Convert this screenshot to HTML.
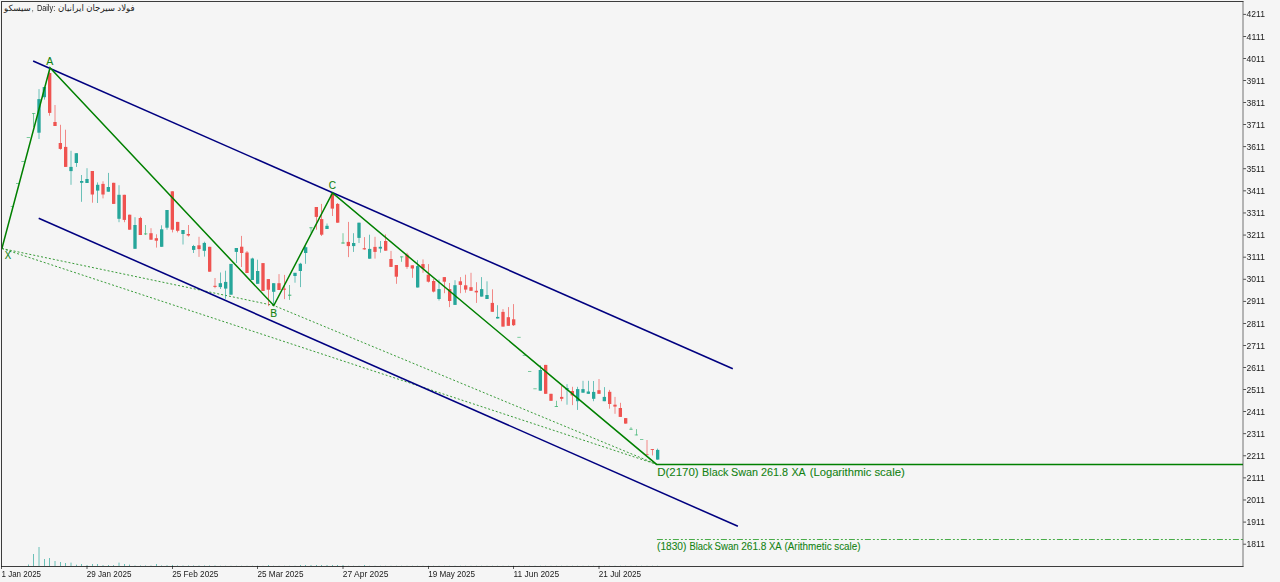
<!DOCTYPE html>
<html><head><meta charset="utf-8"><title>chart</title>
<style>
html,body{margin:0;padding:0;background:#f5f5f5;overflow:hidden}
svg{display:block;font-family:"Liberation Sans",sans-serif}
</style></head><body>
<svg width="1280" height="582" viewBox="0 0 1280 582">
<rect x="0" y="0" width="1280" height="582" fill="#f5f5f5"/>
<g fill="#26a69a">
<rect x="28.00" y="564.50" width="0.667" height="1.50"/>
<rect x="33.33" y="554.00" width="0.667" height="12.00"/>
<rect x="38.67" y="547.00" width="0.667" height="19.00"/>
<rect x="44.00" y="559.00" width="0.667" height="7.00"/>
<rect x="49.33" y="558.00" width="0.667" height="8.00"/>
<rect x="54.67" y="561.00" width="0.667" height="5.00"/>
<rect x="60.00" y="562.00" width="0.667" height="4.00"/>
<rect x="65.33" y="563.00" width="0.667" height="3.00"/>
<rect x="70.67" y="562.60" width="0.667" height="3.40"/>
<rect x="76.00" y="564.70" width="0.667" height="1.30"/>
<rect x="81.33" y="564.00" width="0.667" height="2.00"/>
<rect x="86.67" y="565.00" width="0.667" height="1.00"/>
<rect x="92.00" y="564.00" width="0.667" height="2.00"/>
<rect x="97.33" y="564.00" width="0.667" height="2.00"/>
<rect x="102.67" y="565.00" width="0.667" height="1.00"/>
<rect x="108.00" y="565.00" width="0.667" height="1.00"/>
<rect x="113.33" y="565.00" width="0.667" height="1.00"/>
<rect x="118.67" y="562.60" width="0.667" height="3.40"/>
<rect x="124.00" y="564.00" width="0.667" height="2.00"/>
<rect x="129.33" y="564.60" width="0.667" height="1.40"/>
<rect x="134.67" y="565.45" width="0.667" height="0.55"/>
<rect x="140.00" y="565.45" width="0.667" height="0.55"/>
<rect x="145.33" y="565.45" width="0.667" height="0.55"/>
<rect x="150.67" y="565.45" width="0.667" height="0.55"/>
<rect x="156.00" y="564.00" width="0.667" height="2.00"/>
<rect x="161.33" y="565.45" width="0.667" height="0.55"/>
<rect x="166.67" y="565.20" width="0.667" height="0.80"/>
<rect x="172.00" y="565.00" width="0.667" height="1.00"/>
<rect x="177.33" y="565.45" width="0.667" height="0.55"/>
<rect x="182.67" y="565.45" width="0.667" height="0.55"/>
<rect x="188.00" y="565.45" width="0.667" height="0.55"/>
<rect x="193.33" y="565.45" width="0.667" height="0.55"/>
<rect x="198.67" y="565.45" width="0.667" height="0.55"/>
<rect x="204.00" y="565.45" width="0.667" height="0.55"/>
<rect x="209.33" y="565.45" width="0.667" height="0.55"/>
<rect x="214.67" y="565.45" width="0.667" height="0.55"/>
<rect x="220.00" y="565.75" width="0.667" height="0.25"/>
<rect x="225.33" y="565.75" width="0.667" height="0.25"/>
<rect x="230.67" y="565.75" width="0.667" height="0.25"/>
<rect x="236.00" y="565.75" width="0.667" height="0.25"/>
<rect x="241.33" y="565.75" width="0.667" height="0.25"/>
<rect x="246.67" y="565.75" width="0.667" height="0.25"/>
<rect x="252.00" y="565.75" width="0.667" height="0.25"/>
<rect x="257.33" y="565.75" width="0.667" height="0.25"/>
<rect x="262.67" y="565.75" width="0.667" height="0.25"/>
<rect x="268.00" y="565.00" width="0.667" height="1.00"/>
<rect x="273.33" y="565.75" width="0.667" height="0.25"/>
<rect x="278.67" y="565.75" width="0.667" height="0.25"/>
<rect x="284.00" y="565.75" width="0.667" height="0.25"/>
<rect x="289.33" y="565.75" width="0.667" height="0.25"/>
<rect x="294.67" y="565.75" width="0.667" height="0.25"/>
<rect x="300.00" y="565.00" width="0.667" height="1.00"/>
<rect x="305.33" y="565.00" width="0.667" height="1.00"/>
<rect x="310.67" y="565.00" width="0.667" height="1.00"/>
<rect x="316.00" y="565.00" width="0.667" height="1.00"/>
<rect x="321.33" y="565.00" width="0.667" height="1.00"/>
<rect x="326.67" y="565.00" width="0.667" height="1.00"/>
<rect x="332.00" y="565.00" width="0.667" height="1.00"/>
<rect x="337.33" y="565.00" width="0.667" height="1.00"/>
<rect x="342.67" y="565.00" width="0.667" height="1.00"/>
<rect x="348.00" y="565.75" width="0.667" height="0.25"/>
<rect x="353.33" y="565.75" width="0.667" height="0.25"/>
<rect x="358.67" y="565.75" width="0.667" height="0.25"/>
<rect x="364.00" y="565.00" width="0.667" height="1.00"/>
<rect x="369.33" y="565.75" width="0.667" height="0.25"/>
<rect x="374.67" y="565.75" width="0.667" height="0.25"/>
<rect x="380.00" y="565.75" width="0.667" height="0.25"/>
<rect x="385.33" y="565.75" width="0.667" height="0.25"/>
<rect x="390.67" y="565.75" width="0.667" height="0.25"/>
<rect x="396.00" y="565.75" width="0.667" height="0.25"/>
<rect x="401.33" y="565.75" width="0.667" height="0.25"/>
<rect x="406.67" y="565.75" width="0.667" height="0.25"/>
<rect x="412.00" y="565.75" width="0.667" height="0.25"/>
<rect x="417.33" y="565.75" width="0.667" height="0.25"/>
<rect x="422.67" y="565.75" width="0.667" height="0.25"/>
<rect x="428.00" y="565.75" width="0.667" height="0.25"/>
<rect x="433.33" y="565.75" width="0.667" height="0.25"/>
<rect x="438.67" y="565.75" width="0.667" height="0.25"/>
<rect x="444.00" y="565.75" width="0.667" height="0.25"/>
<rect x="449.33" y="565.75" width="0.667" height="0.25"/>
<rect x="454.67" y="565.75" width="0.667" height="0.25"/>
<rect x="460.00" y="565.75" width="0.667" height="0.25"/>
<rect x="465.33" y="565.75" width="0.667" height="0.25"/>
<rect x="470.67" y="565.75" width="0.667" height="0.25"/>
<rect x="476.00" y="565.75" width="0.667" height="0.25"/>
<rect x="481.33" y="565.75" width="0.667" height="0.25"/>
<rect x="486.67" y="565.75" width="0.667" height="0.25"/>
<rect x="492.00" y="565.75" width="0.667" height="0.25"/>
<rect x="497.33" y="565.75" width="0.667" height="0.25"/>
<rect x="502.67" y="565.75" width="0.667" height="0.25"/>
<rect x="508.00" y="565.75" width="0.667" height="0.25"/>
<rect x="513.33" y="565.75" width="0.667" height="0.25"/>
<rect x="518.67" y="565.75" width="0.667" height="0.25"/>
<rect x="524.00" y="565.75" width="0.667" height="0.25"/>
<rect x="529.33" y="565.75" width="0.667" height="0.25"/>
<rect x="534.67" y="565.75" width="0.667" height="0.25"/>
<rect x="540.00" y="565.75" width="0.667" height="0.25"/>
<rect x="545.33" y="565.75" width="0.667" height="0.25"/>
<rect x="550.67" y="565.75" width="0.667" height="0.25"/>
<rect x="556.00" y="565.75" width="0.667" height="0.25"/>
<rect x="561.33" y="565.75" width="0.667" height="0.25"/>
<rect x="566.67" y="565.75" width="0.667" height="0.25"/>
<rect x="572.00" y="565.75" width="0.667" height="0.25"/>
<rect x="577.33" y="565.75" width="0.667" height="0.25"/>
<rect x="582.67" y="565.75" width="0.667" height="0.25"/>
<rect x="588.00" y="565.75" width="0.667" height="0.25"/>
<rect x="593.33" y="565.75" width="0.667" height="0.25"/>
<rect x="598.67" y="565.75" width="0.667" height="0.25"/>
<rect x="604.00" y="565.75" width="0.667" height="0.25"/>
<rect x="609.33" y="565.75" width="0.667" height="0.25"/>
<rect x="614.67" y="565.75" width="0.667" height="0.25"/>
<rect x="620.00" y="565.75" width="0.667" height="0.25"/>
<rect x="625.33" y="565.75" width="0.667" height="0.25"/>
<rect x="630.67" y="565.75" width="0.667" height="0.25"/>
<rect x="636.00" y="565.75" width="0.667" height="0.25"/>
<rect x="641.33" y="565.75" width="0.667" height="0.25"/>
<rect x="646.67" y="565.75" width="0.667" height="0.25"/>
<rect x="652.00" y="565.75" width="0.667" height="0.25"/>
<rect x="657.33" y="565.75" width="0.667" height="0.25"/>
</g>
<g stroke="#008000" stroke-width="0.9" stroke-dasharray="2 2" fill="none" opacity="0.85">
<path d="M1.9 248.5 L273.8 305.5 L656.6 464.3"/>
<path d="M1.9 248.5 L656.6 464.3"/>
</g>
<rect x="33.33" y="113.2" width="0.667" height="13.8" fill="#3cb371"/>
<rect x="32.00" y="113.2" width="3.333" height="0.7" fill="#3cb371"/>
<rect x="38.67" y="89.1" width="0.667" height="49.9" fill="#26a69a"/>
<rect x="37.33" y="99.1" width="3.333" height="33.6" fill="#26a69a"/>
<rect x="44.00" y="87.0" width="0.667" height="12.6" fill="#26a69a"/>
<rect x="42.67" y="87.0" width="3.333" height="10.2" fill="#26a69a"/>
<rect x="49.33" y="67.8" width="0.667" height="47.9" fill="#ef5350"/>
<rect x="48.00" y="73.0" width="3.333" height="39.9" fill="#ef5350"/>
<rect x="54.67" y="105.0" width="0.667" height="21.0" fill="#ef5350"/>
<rect x="53.33" y="122.0" width="3.333" height="4.0" fill="#ef5350"/>
<rect x="60.00" y="124.8" width="0.667" height="24.9" fill="#ef5350"/>
<rect x="58.67" y="143.0" width="3.333" height="5.9" fill="#ef5350"/>
<rect x="65.33" y="129.7" width="0.667" height="37.2" fill="#ef5350"/>
<rect x="64.00" y="146.9" width="3.333" height="20.0" fill="#ef5350"/>
<rect x="70.67" y="150.8" width="0.667" height="34.0" fill="#26a69a"/>
<rect x="69.33" y="166.9" width="3.333" height="4.2" fill="#26a69a"/>
<rect x="76.00" y="153.2" width="0.667" height="13.7" fill="#26a69a"/>
<rect x="74.67" y="153.2" width="3.333" height="9.8" fill="#26a69a"/>
<rect x="81.33" y="175.0" width="0.667" height="26.8" fill="#26a69a"/>
<rect x="80.00" y="181.0" width="3.333" height="1.8" fill="#26a69a"/>
<rect x="86.67" y="168.2" width="0.667" height="14.8" fill="#26a69a"/>
<rect x="85.33" y="179.0" width="3.333" height="4.0" fill="#26a69a"/>
<rect x="92.00" y="171.0" width="0.667" height="31.7" fill="#ef5350"/>
<rect x="90.67" y="171.0" width="3.333" height="23.5" fill="#ef5350"/>
<rect x="97.33" y="182.4" width="0.667" height="20.6" fill="#26a69a"/>
<rect x="96.00" y="184.8" width="3.333" height="5.8" fill="#26a69a"/>
<rect x="102.67" y="181.3" width="0.667" height="17.1" fill="#ef5350"/>
<rect x="101.33" y="183.9" width="3.333" height="10.6" fill="#ef5350"/>
<rect x="108.00" y="172.9" width="0.667" height="18.8" fill="#26a69a"/>
<rect x="106.67" y="187.0" width="3.333" height="4.7" fill="#26a69a"/>
<rect x="113.33" y="182.8" width="0.667" height="21.1" fill="#ef5350"/>
<rect x="112.00" y="182.8" width="3.333" height="21.1" fill="#ef5350"/>
<rect x="118.67" y="185.2" width="0.667" height="37.0" fill="#26a69a"/>
<rect x="117.33" y="194.8" width="3.333" height="24.0" fill="#26a69a"/>
<rect x="124.00" y="194.8" width="0.667" height="27.4" fill="#ef5350"/>
<rect x="122.67" y="194.8" width="3.333" height="25.1" fill="#ef5350"/>
<rect x="129.33" y="214.7" width="0.667" height="15.0" fill="#ef5350"/>
<rect x="128.00" y="214.7" width="3.333" height="15.0" fill="#ef5350"/>
<rect x="134.67" y="217.2" width="0.667" height="31.6" fill="#26a69a"/>
<rect x="133.33" y="225.0" width="3.333" height="23.8" fill="#26a69a"/>
<rect x="140.00" y="216.8" width="0.667" height="18.2" fill="#ef5350"/>
<rect x="138.67" y="218.0" width="3.333" height="17.0" fill="#ef5350"/>
<rect x="145.33" y="225.0" width="0.667" height="10.0" fill="#3cb371"/>
<rect x="144.00" y="233.5" width="3.333" height="0.8" fill="#3cb371"/>
<rect x="150.67" y="228.2" width="0.667" height="11.5" fill="#ef5350"/>
<rect x="149.33" y="233.2" width="3.333" height="6.5" fill="#ef5350"/>
<rect x="156.00" y="234.3" width="0.667" height="13.3" fill="#ef5350"/>
<rect x="154.67" y="238.2" width="3.333" height="2.5" fill="#ef5350"/>
<rect x="161.33" y="225.3" width="0.667" height="21.5" fill="#26a69a"/>
<rect x="160.00" y="229.3" width="3.333" height="17.5" fill="#26a69a"/>
<rect x="166.67" y="210.0" width="0.667" height="19.7" fill="#26a69a"/>
<rect x="165.33" y="210.0" width="3.333" height="17.7" fill="#26a69a"/>
<rect x="172.00" y="191.3" width="0.667" height="41.1" fill="#ef5350"/>
<rect x="170.67" y="191.3" width="3.333" height="38.4" fill="#ef5350"/>
<rect x="177.33" y="221.9" width="0.667" height="10.5" fill="#ef5350"/>
<rect x="176.00" y="221.9" width="3.333" height="8.9" fill="#ef5350"/>
<rect x="182.67" y="230.0" width="0.667" height="14.5" fill="#26a69a"/>
<rect x="181.33" y="230.0" width="3.333" height="4.0" fill="#26a69a"/>
<rect x="188.00" y="225.0" width="0.667" height="11.6" fill="#ef5350"/>
<rect x="186.67" y="234.0" width="3.333" height="1.5" fill="#ef5350"/>
<rect x="193.33" y="244.9" width="0.667" height="8.1" fill="#26a69a"/>
<rect x="192.00" y="246.0" width="3.333" height="3.9" fill="#26a69a"/>
<rect x="198.67" y="236.8" width="0.667" height="20.1" fill="#ef5350"/>
<rect x="197.33" y="245.3" width="3.333" height="3.8" fill="#ef5350"/>
<rect x="204.00" y="241.7" width="0.667" height="14.9" fill="#26a69a"/>
<rect x="202.67" y="242.9" width="3.333" height="7.9" fill="#26a69a"/>
<rect x="209.33" y="246.8" width="0.667" height="24.9" fill="#ef5350"/>
<rect x="208.00" y="246.8" width="3.333" height="24.9" fill="#ef5350"/>
<rect x="214.67" y="278.0" width="0.667" height="10.2" fill="#ef5350"/>
<rect x="213.33" y="285.8" width="3.333" height="1.1" fill="#ef5350"/>
<rect x="220.00" y="272.5" width="0.667" height="16.5" fill="#26a69a"/>
<rect x="218.67" y="283.2" width="3.333" height="3.9" fill="#26a69a"/>
<rect x="225.33" y="270.7" width="0.667" height="28.1" fill="#26a69a"/>
<rect x="224.00" y="281.9" width="3.333" height="6.7" fill="#26a69a"/>
<rect x="230.67" y="263.9" width="0.667" height="30.8" fill="#26a69a"/>
<rect x="229.33" y="263.9" width="3.333" height="30.8" fill="#26a69a"/>
<rect x="236.00" y="248.0" width="0.667" height="15.0" fill="#26a69a"/>
<rect x="234.67" y="248.0" width="3.333" height="3.9" fill="#26a69a"/>
<rect x="241.33" y="235.9" width="0.667" height="31.1" fill="#ef5350"/>
<rect x="240.00" y="246.7" width="3.333" height="6.3" fill="#ef5350"/>
<rect x="246.67" y="251.0" width="0.667" height="22.0" fill="#ef5350"/>
<rect x="245.33" y="252.5" width="3.333" height="20.5" fill="#ef5350"/>
<rect x="252.00" y="257.7" width="0.667" height="22.3" fill="#26a69a"/>
<rect x="250.67" y="258.5" width="3.333" height="21.5" fill="#26a69a"/>
<rect x="257.33" y="259.7" width="0.667" height="24.1" fill="#26a69a"/>
<rect x="256.00" y="271.0" width="3.333" height="12.8" fill="#26a69a"/>
<rect x="262.67" y="263.1" width="0.667" height="27.9" fill="#ef5350"/>
<rect x="261.33" y="263.1" width="3.333" height="27.9" fill="#ef5350"/>
<rect x="268.00" y="279.1" width="0.667" height="27.0" fill="#ef5350"/>
<rect x="266.67" y="279.1" width="3.333" height="10.6" fill="#ef5350"/>
<rect x="273.33" y="283.2" width="0.667" height="22.2" fill="#26a69a"/>
<rect x="272.00" y="283.2" width="3.333" height="8.6" fill="#26a69a"/>
<rect x="278.67" y="274.1" width="0.667" height="15.9" fill="#ef5350"/>
<rect x="277.33" y="283.2" width="3.333" height="6.8" fill="#ef5350"/>
<rect x="284.00" y="274.9" width="0.667" height="24.2" fill="#ef5350"/>
<rect x="282.67" y="288.6" width="3.333" height="1.1" fill="#ef5350"/>
<rect x="289.33" y="285.0" width="0.667" height="14.9" fill="#3cb371"/>
<rect x="288.00" y="294.7" width="3.333" height="1.0" fill="#3cb371"/>
<rect x="294.67" y="272.8" width="0.667" height="9.9" fill="#26a69a"/>
<rect x="293.33" y="272.8" width="3.333" height="3.2" fill="#26a69a"/>
<rect x="300.00" y="262.8" width="0.667" height="24.3" fill="#26a69a"/>
<rect x="298.67" y="263.7" width="3.333" height="7.3" fill="#26a69a"/>
<rect x="305.33" y="246.0" width="0.667" height="17.8" fill="#26a69a"/>
<rect x="304.00" y="247.2" width="3.333" height="5.8" fill="#26a69a"/>
<rect x="310.67" y="227.4" width="0.667" height="5.5" fill="#3cb371"/>
<rect x="309.33" y="227.4" width="3.333" height="0.8" fill="#3cb371"/>
<rect x="316.00" y="207.0" width="0.667" height="22.7" fill="#ef5350"/>
<rect x="314.67" y="207.0" width="3.333" height="9.9" fill="#ef5350"/>
<rect x="321.33" y="203.9" width="0.667" height="32.1" fill="#ef5350"/>
<rect x="320.00" y="219.1" width="3.333" height="15.6" fill="#ef5350"/>
<rect x="326.67" y="223.5" width="0.667" height="5.5" fill="#26a69a"/>
<rect x="325.33" y="225.8" width="3.333" height="3.2" fill="#26a69a"/>
<rect x="332.00" y="193.0" width="0.667" height="23.0" fill="#ef5350"/>
<rect x="330.67" y="193.5" width="3.333" height="15.1" fill="#ef5350"/>
<rect x="337.33" y="203.0" width="0.667" height="19.7" fill="#ef5350"/>
<rect x="336.00" y="203.9" width="3.333" height="18.8" fill="#ef5350"/>
<rect x="342.67" y="233.2" width="0.667" height="10.3" fill="#3cb371"/>
<rect x="341.33" y="242.5" width="3.333" height="1.0" fill="#3cb371"/>
<rect x="348.00" y="221.9" width="0.667" height="35.2" fill="#ef5350"/>
<rect x="346.67" y="241.9" width="3.333" height="4.2" fill="#ef5350"/>
<rect x="353.33" y="233.2" width="0.667" height="18.7" fill="#26a69a"/>
<rect x="352.00" y="243.0" width="3.333" height="3.1" fill="#26a69a"/>
<rect x="358.67" y="222.7" width="0.667" height="20.3" fill="#26a69a"/>
<rect x="357.33" y="222.7" width="3.333" height="15.2" fill="#26a69a"/>
<rect x="364.00" y="237.1" width="0.667" height="12.6" fill="#ef5350"/>
<rect x="362.67" y="248.2" width="3.333" height="1.2" fill="#ef5350"/>
<rect x="369.33" y="234.7" width="0.667" height="24.0" fill="#26a69a"/>
<rect x="368.00" y="248.9" width="3.333" height="9.8" fill="#26a69a"/>
<rect x="374.67" y="236.8" width="0.667" height="21.8" fill="#ef5350"/>
<rect x="373.33" y="246.9" width="3.333" height="5.0" fill="#ef5350"/>
<rect x="380.00" y="241.0" width="0.667" height="11.7" fill="#26a69a"/>
<rect x="378.67" y="246.8" width="3.333" height="1.8" fill="#26a69a"/>
<rect x="385.33" y="234.4" width="0.667" height="16.3" fill="#ef5350"/>
<rect x="384.00" y="241.0" width="3.333" height="9.7" fill="#ef5350"/>
<rect x="390.67" y="250.9" width="0.667" height="16.0" fill="#ef5350"/>
<rect x="389.33" y="259.0" width="3.333" height="7.9" fill="#ef5350"/>
<rect x="396.00" y="265.0" width="0.667" height="18.8" fill="#ef5350"/>
<rect x="394.67" y="265.0" width="3.333" height="11.7" fill="#ef5350"/>
<rect x="401.33" y="256.5" width="0.667" height="5.3" fill="#3cb371"/>
<rect x="400.00" y="256.5" width="3.333" height="0.8" fill="#3cb371"/>
<rect x="406.67" y="252.8" width="0.667" height="16.0" fill="#ef5350"/>
<rect x="405.33" y="254.7" width="3.333" height="12.2" fill="#ef5350"/>
<rect x="412.00" y="265.3" width="0.667" height="12.5" fill="#ef5350"/>
<rect x="410.67" y="265.3" width="3.333" height="3.2" fill="#ef5350"/>
<rect x="417.33" y="260.2" width="0.667" height="27.3" fill="#26a69a"/>
<rect x="416.00" y="266.1" width="3.333" height="21.4" fill="#26a69a"/>
<rect x="422.67" y="259.4" width="0.667" height="13.4" fill="#ef5350"/>
<rect x="421.33" y="264.1" width="3.333" height="4.4" fill="#ef5350"/>
<rect x="428.00" y="264.1" width="0.667" height="18.4" fill="#ef5350"/>
<rect x="426.67" y="274.7" width="3.333" height="7.0" fill="#ef5350"/>
<rect x="433.33" y="279.1" width="0.667" height="13.3" fill="#ef5350"/>
<rect x="432.00" y="281.0" width="3.333" height="10.6" fill="#ef5350"/>
<rect x="438.67" y="279.4" width="0.667" height="21.1" fill="#26a69a"/>
<rect x="437.33" y="289.1" width="3.333" height="9.9" fill="#26a69a"/>
<rect x="444.00" y="277.1" width="0.667" height="16.1" fill="#ef5350"/>
<rect x="442.67" y="277.1" width="3.333" height="4.6" fill="#ef5350"/>
<rect x="449.33" y="283.0" width="0.667" height="24.1" fill="#ef5350"/>
<rect x="448.00" y="289.1" width="3.333" height="11.9" fill="#ef5350"/>
<rect x="454.67" y="280.2" width="0.667" height="24.7" fill="#26a69a"/>
<rect x="453.33" y="285.2" width="3.333" height="19.7" fill="#26a69a"/>
<rect x="460.00" y="277.1" width="0.667" height="16.1" fill="#ef5350"/>
<rect x="458.67" y="281.3" width="3.333" height="3.6" fill="#ef5350"/>
<rect x="465.33" y="274.7" width="0.667" height="18.0" fill="#ef5350"/>
<rect x="464.00" y="285.3" width="3.333" height="4.3" fill="#ef5350"/>
<rect x="470.67" y="272.8" width="0.667" height="18.0" fill="#ef5350"/>
<rect x="469.33" y="287.2" width="3.333" height="3.6" fill="#ef5350"/>
<rect x="476.00" y="282.2" width="0.667" height="20.7" fill="#ef5350"/>
<rect x="474.67" y="290.8" width="3.333" height="1.6" fill="#ef5350"/>
<rect x="481.33" y="277.1" width="0.667" height="19.5" fill="#26a69a"/>
<rect x="480.00" y="289.1" width="3.333" height="7.5" fill="#26a69a"/>
<rect x="486.67" y="281.3" width="0.667" height="17.7" fill="#26a69a"/>
<rect x="485.33" y="295.0" width="3.333" height="4.0" fill="#26a69a"/>
<rect x="492.00" y="289.3" width="0.667" height="22.5" fill="#ef5350"/>
<rect x="490.67" y="302.9" width="3.333" height="8.9" fill="#ef5350"/>
<rect x="497.33" y="305.2" width="0.667" height="13.3" fill="#26a69a"/>
<rect x="496.00" y="316.9" width="3.333" height="1.6" fill="#26a69a"/>
<rect x="502.67" y="309.1" width="0.667" height="17.5" fill="#ef5350"/>
<rect x="501.33" y="311.9" width="3.333" height="14.7" fill="#ef5350"/>
<rect x="508.00" y="307.1" width="0.667" height="18.7" fill="#ef5350"/>
<rect x="506.67" y="317.2" width="3.333" height="8.6" fill="#ef5350"/>
<rect x="513.33" y="304.1" width="0.667" height="21.9" fill="#ef5350"/>
<rect x="512.00" y="319.3" width="3.333" height="5.9" fill="#ef5350"/>
<rect x="540.00" y="365.3" width="0.667" height="25.4" fill="#26a69a"/>
<rect x="538.67" y="370.0" width="3.333" height="20.7" fill="#26a69a"/>
<rect x="545.33" y="364.9" width="0.667" height="28.9" fill="#ef5350"/>
<rect x="544.00" y="364.9" width="3.333" height="28.9" fill="#ef5350"/>
<rect x="550.67" y="393.8" width="0.667" height="7.0" fill="#ef5350"/>
<rect x="549.33" y="393.8" width="3.333" height="7.0" fill="#ef5350"/>
<rect x="556.00" y="400.8" width="0.667" height="6.0" fill="#3cb371"/>
<rect x="554.67" y="406.0" width="3.333" height="0.8" fill="#3cb371"/>
<rect x="561.33" y="386.0" width="0.667" height="15.2" fill="#ef5350"/>
<rect x="560.00" y="396.9" width="3.333" height="1.9" fill="#ef5350"/>
<rect x="566.67" y="384.1" width="0.667" height="20.6" fill="#26a69a"/>
<rect x="565.33" y="388.0" width="3.333" height="1.6" fill="#26a69a"/>
<rect x="572.00" y="386.8" width="0.667" height="18.3" fill="#ef5350"/>
<rect x="570.67" y="391.0" width="3.333" height="4.4" fill="#ef5350"/>
<rect x="577.33" y="386.8" width="0.667" height="23.1" fill="#26a69a"/>
<rect x="576.00" y="389.1" width="3.333" height="12.1" fill="#26a69a"/>
<rect x="582.67" y="380.8" width="0.667" height="11.9" fill="#26a69a"/>
<rect x="581.33" y="389.1" width="3.333" height="3.6" fill="#26a69a"/>
<rect x="588.00" y="380.8" width="0.667" height="13.0" fill="#26a69a"/>
<rect x="586.67" y="391.5" width="3.333" height="2.3" fill="#26a69a"/>
<rect x="593.33" y="381.0" width="0.667" height="20.2" fill="#26a69a"/>
<rect x="592.00" y="391.9" width="3.333" height="6.9" fill="#26a69a"/>
<rect x="598.67" y="379.0" width="0.667" height="14.8" fill="#ef5350"/>
<rect x="597.33" y="390.2" width="3.333" height="3.6" fill="#ef5350"/>
<rect x="604.00" y="387.1" width="0.667" height="14.1" fill="#26a69a"/>
<rect x="602.67" y="396.9" width="3.333" height="4.3" fill="#26a69a"/>
<rect x="609.33" y="389.9" width="0.667" height="18.8" fill="#ef5350"/>
<rect x="608.00" y="391.8" width="3.333" height="12.2" fill="#ef5350"/>
<rect x="614.67" y="396.9" width="0.667" height="16.9" fill="#ef5350"/>
<rect x="613.33" y="404.7" width="3.333" height="1.9" fill="#ef5350"/>
<rect x="620.00" y="402.8" width="0.667" height="14.1" fill="#ef5350"/>
<rect x="618.67" y="408.0" width="3.333" height="8.9" fill="#ef5350"/>
<rect x="625.33" y="418.1" width="0.667" height="5.5" fill="#ef5350"/>
<rect x="624.00" y="418.1" width="3.333" height="5.5" fill="#ef5350"/>
<rect x="630.67" y="427.2" width="0.667" height="2.4" fill="#3cb371"/>
<rect x="629.33" y="428.8" width="3.333" height="0.8" fill="#3cb371"/>
<rect x="636.00" y="429.1" width="0.667" height="6.2" fill="#3cb371"/>
<rect x="634.67" y="434.6" width="3.333" height="0.7" fill="#3cb371"/>
<rect x="646.67" y="440.0" width="0.667" height="15.0" fill="#ef5350"/>
<rect x="645.33" y="454.4" width="3.333" height="0.7" fill="#ef5350"/>
<rect x="652.00" y="449.0" width="0.667" height="6.4" fill="#ef5350"/>
<rect x="650.67" y="449.0" width="3.333" height="0.9" fill="#ef5350"/>
<rect x="657.33" y="448.6" width="0.667" height="11.0" fill="#26a69a"/>
<rect x="656.00" y="449.9" width="3.333" height="9.7" fill="#26a69a"/>
<rect x="10.67" y="206.2" width="3.333" height="0.667" fill="#3cb371"/>
<rect x="16.00" y="183.0" width="3.333" height="0.667" fill="#3cb371"/>
<rect x="21.33" y="161.1" width="3.333" height="0.667" fill="#3cb371"/>
<rect x="26.67" y="137.0" width="3.333" height="0.667" fill="#3cb371"/>
<rect x="517.33" y="336.9" width="3.333" height="0.667" fill="#3cb371"/>
<rect x="522.67" y="354.9" width="3.333" height="0.667" fill="#3cb371"/>
<rect x="528.00" y="371.1" width="3.333" height="0.667" fill="#3cb371"/>
<rect x="533.33" y="388.5" width="3.333" height="0.667" fill="#3cb371"/>
<rect x="640.00" y="439.0" width="3.333" height="0.667" fill="#3cb371"/>
<g stroke="#000080" stroke-width="1.55" fill="none">
<path d="M33.1 61.0 L732.8 368.7"/>
<path d="M38.7 218.2 L737.9 526.3"/>
</g>
<g stroke="#008000" stroke-width="1.5" fill="none" stroke-linejoin="miter">
<path d="M1.9 248.5 L50 67.8 L273.8 305.5 L332.5 193 L656.6 464.4 L1243 464.4"/>
</g>
<path d="M656.9 539.5 H1243" stroke="#1e9a1e" stroke-width="0.8" stroke-dasharray="6 2 2 2 2 2" fill="none"/>
<rect x="1242.67" y="1" width="0.667" height="566" fill="#333"/>
<rect x="1" y="1" width="1242.4" height="1" fill="#3c3c3c"/>
<rect x="1" y="1" width="1" height="566" fill="#3c3c3c"/>
<rect x="1" y="566" width="1242.4" height="1" fill="#3c3c3c"/>
<rect x="1243.3" y="13.92" width="2.8" height="0.667" fill="#000"/>
<rect x="1243.3" y="36.00" width="2.8" height="0.667" fill="#000"/>
<rect x="1243.3" y="58.08" width="2.8" height="0.667" fill="#000"/>
<rect x="1243.3" y="80.15" width="2.8" height="0.667" fill="#000"/>
<rect x="1243.3" y="102.23" width="2.8" height="0.667" fill="#000"/>
<rect x="1243.3" y="124.31" width="2.8" height="0.667" fill="#000"/>
<rect x="1243.3" y="146.39" width="2.8" height="0.667" fill="#000"/>
<rect x="1243.3" y="168.47" width="2.8" height="0.667" fill="#000"/>
<rect x="1243.3" y="190.55" width="2.8" height="0.667" fill="#000"/>
<rect x="1243.3" y="212.63" width="2.8" height="0.667" fill="#000"/>
<rect x="1243.3" y="234.71" width="2.8" height="0.667" fill="#000"/>
<rect x="1243.3" y="256.79" width="2.8" height="0.667" fill="#000"/>
<rect x="1243.3" y="278.86" width="2.8" height="0.667" fill="#000"/>
<rect x="1243.3" y="300.94" width="2.8" height="0.667" fill="#000"/>
<rect x="1243.3" y="323.02" width="2.8" height="0.667" fill="#000"/>
<rect x="1243.3" y="345.10" width="2.8" height="0.667" fill="#000"/>
<rect x="1243.3" y="367.18" width="2.8" height="0.667" fill="#000"/>
<rect x="1243.3" y="389.26" width="2.8" height="0.667" fill="#000"/>
<rect x="1243.3" y="411.34" width="2.8" height="0.667" fill="#000"/>
<rect x="1243.3" y="433.42" width="2.8" height="0.667" fill="#000"/>
<rect x="1243.3" y="455.50" width="2.8" height="0.667" fill="#000"/>
<rect x="1243.3" y="477.58" width="2.8" height="0.667" fill="#000"/>
<rect x="1243.3" y="499.65" width="2.8" height="0.667" fill="#000"/>
<rect x="1243.3" y="521.73" width="2.8" height="0.667" fill="#000"/>
<rect x="1243.3" y="543.81" width="2.8" height="0.667" fill="#000"/>
<rect x="1.33" y="566" width="0.667" height="3" fill="#111"/>
<rect x="86.67" y="566" width="0.667" height="3" fill="#111"/>
<rect x="172.00" y="566" width="0.667" height="3" fill="#111"/>
<rect x="257.33" y="566" width="0.667" height="3" fill="#111"/>
<rect x="342.67" y="566" width="0.667" height="3" fill="#111"/>
<rect x="428.00" y="566" width="0.667" height="3" fill="#111"/>
<rect x="513.33" y="566" width="0.667" height="3" fill="#111"/>
<rect x="598.67" y="566" width="0.667" height="3" fill="#111"/>
<g font-size="11.7" fill="#128212" stroke="#128212" stroke-width="0.1" text-anchor="middle">
<text transform="translate(49.7 64.8) scale(0.90 1)">A</text>
<text transform="translate(273.6 316.7) scale(0.88 1)">B</text>
<text transform="translate(332.3 189.4) scale(0.86 1)">C</text>
<text transform="translate(8.0 259.1) scale(0.82 1)">X</text>
</g>
<g font-size="11.3" fill="#128212" stroke="#128212" stroke-width="0.08">
<text x="657.2" y="475.9" textLength="41.5" lengthAdjust="spacingAndGlyphs">D(2170)</text>
<text x="702.1" y="475.9" textLength="26.3" lengthAdjust="spacingAndGlyphs">Black</text>
<text x="731.1" y="475.9" textLength="27.0" lengthAdjust="spacingAndGlyphs">Swan</text>
<text x="761.0" y="475.9" textLength="27.1" lengthAdjust="spacingAndGlyphs">261.8</text>
<text x="791.4" y="475.9" textLength="14.3" lengthAdjust="spacingAndGlyphs">XA</text>
<text x="809.7" y="475.9" textLength="61.7" lengthAdjust="spacingAndGlyphs">(Logarithmic</text>
<text x="874.4" y="475.9" textLength="30.5" lengthAdjust="spacingAndGlyphs">scale)</text>
</g>
<g font-size="10.3" fill="#128212" stroke="#128212" stroke-width="0.08">
<text x="657.0" y="549.9" textLength="29.4" lengthAdjust="spacingAndGlyphs">(1830)</text>
<text x="689.5" y="549.9" textLength="22.9" lengthAdjust="spacingAndGlyphs">Black</text>
<text x="714.6" y="549.9" textLength="24.1" lengthAdjust="spacingAndGlyphs">Swan</text>
<text x="741.2" y="549.9" textLength="25.3" lengthAdjust="spacingAndGlyphs">261.8</text>
<text x="769.0" y="549.9" textLength="12.7" lengthAdjust="spacingAndGlyphs">XA</text>
<text x="784.5" y="549.9" textLength="47.1" lengthAdjust="spacingAndGlyphs">(Arithmetic</text>
<text x="834.3" y="549.9" textLength="26.2" lengthAdjust="spacingAndGlyphs">scale)</text>
</g>
<g fill="#1a1a1a" font-size="8.6" font-family="'Liberation Sans','DejaVu Sans',sans-serif" text-anchor="middle">
<text x="17.4" y="11.2" direction="rtl">سیسکو</text>
<text x="96.3" y="11.2" direction="rtl">فولاد سیرجان ایرانیان</text>
</g>
</svg>
<svg width="1280" height="582" viewBox="0 0 1280 582" style="position:absolute;left:0;top:0;will-change:transform">
<g font-size="8.9" fill="#1a1a1a">
<text x="1246.5" y="17.45" textLength="18.4" lengthAdjust="spacingAndGlyphs">4211</text>
<text x="1246.5" y="39.53" textLength="18.4" lengthAdjust="spacingAndGlyphs">4111</text>
<text x="1246.5" y="61.61" textLength="18.4" lengthAdjust="spacingAndGlyphs">4011</text>
<text x="1246.5" y="83.69" textLength="18.4" lengthAdjust="spacingAndGlyphs">3911</text>
<text x="1246.5" y="105.77" textLength="18.4" lengthAdjust="spacingAndGlyphs">3811</text>
<text x="1246.5" y="127.85" textLength="18.4" lengthAdjust="spacingAndGlyphs">3711</text>
<text x="1246.5" y="149.92" textLength="18.4" lengthAdjust="spacingAndGlyphs">3611</text>
<text x="1246.5" y="172.00" textLength="18.4" lengthAdjust="spacingAndGlyphs">3511</text>
<text x="1246.5" y="194.08" textLength="18.4" lengthAdjust="spacingAndGlyphs">3411</text>
<text x="1246.5" y="216.16" textLength="18.4" lengthAdjust="spacingAndGlyphs">3311</text>
<text x="1246.5" y="238.24" textLength="18.4" lengthAdjust="spacingAndGlyphs">3211</text>
<text x="1246.5" y="260.32" textLength="18.4" lengthAdjust="spacingAndGlyphs">3111</text>
<text x="1246.5" y="282.40" textLength="18.4" lengthAdjust="spacingAndGlyphs">3011</text>
<text x="1246.5" y="304.48" textLength="18.4" lengthAdjust="spacingAndGlyphs">2911</text>
<text x="1246.5" y="326.56" textLength="18.4" lengthAdjust="spacingAndGlyphs">2811</text>
<text x="1246.5" y="348.63" textLength="18.4" lengthAdjust="spacingAndGlyphs">2711</text>
<text x="1246.5" y="370.71" textLength="18.4" lengthAdjust="spacingAndGlyphs">2611</text>
<text x="1246.5" y="392.79" textLength="18.4" lengthAdjust="spacingAndGlyphs">2511</text>
<text x="1246.5" y="414.87" textLength="18.4" lengthAdjust="spacingAndGlyphs">2411</text>
<text x="1246.5" y="436.95" textLength="18.4" lengthAdjust="spacingAndGlyphs">2311</text>
<text x="1246.5" y="459.03" textLength="18.4" lengthAdjust="spacingAndGlyphs">2211</text>
<text x="1246.5" y="481.11" textLength="18.4" lengthAdjust="spacingAndGlyphs">2111</text>
<text x="1246.5" y="503.19" textLength="18.4" lengthAdjust="spacingAndGlyphs">2011</text>
<text x="1246.5" y="525.27" textLength="18.4" lengthAdjust="spacingAndGlyphs">1911</text>
<text x="1246.5" y="547.35" textLength="18.4" lengthAdjust="spacingAndGlyphs">1811</text>
</g>
<g font-size="8.9" fill="#1a1a1a">
<text x="1.47" y="577.2" textLength="39.6" lengthAdjust="spacingAndGlyphs">1 Jan 2025</text>
<text x="86.80" y="577.2" textLength="44.6" lengthAdjust="spacingAndGlyphs">29 Jan 2025</text>
<text x="172.13" y="577.2" textLength="46.3" lengthAdjust="spacingAndGlyphs">25 Feb 2025</text>
<text x="257.47" y="577.2" textLength="46.0" lengthAdjust="spacingAndGlyphs">25 Mar 2025</text>
<text x="342.80" y="577.2" textLength="45.6" lengthAdjust="spacingAndGlyphs">27 Apr 2025</text>
<text x="428.13" y="577.2" textLength="47.0" lengthAdjust="spacingAndGlyphs">19 May 2025</text>
<text x="513.47" y="577.2" textLength="45.6" lengthAdjust="spacingAndGlyphs">11 Jun 2025</text>
<text x="598.80" y="577.2" textLength="42.4" lengthAdjust="spacingAndGlyphs">21 Jul 2025</text>
</g>
<text x="31.6" y="11.2" font-size="8.6" fill="#666">,</text>
<text x="36.9" y="11.2" font-size="8.9" fill="#1a1a1a" textLength="18.3" lengthAdjust="spacingAndGlyphs">Daily:</text>
</svg></body></html>
